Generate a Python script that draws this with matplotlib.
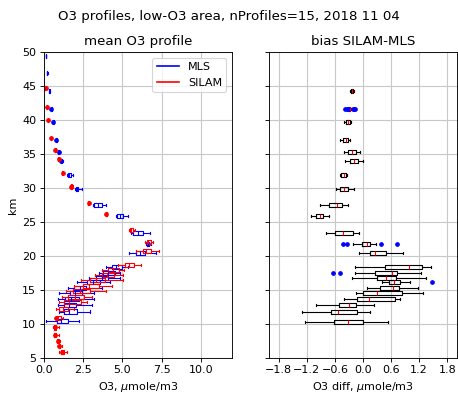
import numpy as np
import matplotlib
matplotlib.use("Agg")
import matplotlib.pyplot as plt
from matplotlib.lines import Line2D

# ---------------- data ----------------
# MLS mean-profile boxes (km, q1, median, q3, whisker low, whisker high)
mls_km = [49.4, 46.9, 44.3, 41.6, 39.7, 37.1, 35.3, 34.0, 31.9, 29.9, 27.5, 25.8,
          23.4, 21.7, 20.35, 18.3, 17.5, 16.8, 16.1, 15.25, 14.5, 13.6, 12.7, 11.8, 10.35]
mls_q1 = [0.12, 0.20, 0.32, 0.44, 0.57, 0.77, 0.92, 1.08, 1.50, 2.02, 3.19, 4.65,
          5.71, 6.58, 5.88, 4.31, 3.79, 3.33, 2.75, 1.92, 1.67, 1.33, 1.29, 1.29, 0.80]
mls_med = [0.13, 0.21, 0.34, 0.46, 0.59, 0.80, 0.95, 1.12, 1.60, 2.10, 3.45, 4.85,
           6.00, 6.65, 6.10, 4.62, 4.10, 3.70, 3.10, 2.30, 2.00, 1.75, 1.60, 1.60, 1.10]
mls_q3 = [0.14, 0.22, 0.36, 0.48, 0.62, 0.83, 0.98, 1.16, 1.72, 2.20, 3.70, 5.03,
          6.30, 6.72, 6.47, 5.00, 4.52, 4.10, 3.58, 2.65, 2.44, 2.23, 2.02, 2.13, 1.55]
mls_lo = [0.11, 0.19, 0.30, 0.42, 0.55, 0.75, 0.90, 1.05, 1.45, 1.98, 3.10, 4.60,
          5.56, 6.52, 5.45, 3.96, 3.48, 2.85, 2.13, 1.50, 0.98, 0.88, 0.88, 0.98, 0.15]
mls_hi = [0.15, 0.23, 0.38, 0.50, 0.64, 0.86, 1.01, 1.20, 1.88, 2.42, 3.93, 5.35,
          6.77, 6.80, 7.15, 5.35, 4.83, 4.83, 4.20, 3.69, 3.17, 3.17, 3.06, 2.96, 2.25]
mls_fl = [[], [], [], [0.45], [0.58], [0.79], [0.94], [1.11], [], [], [], [],
          [], [6.62], [], [], [], [], [], [], [], [], [], [], []]

# SILAM mean-profile boxes
sil_km = [44.65, 41.9, 40.0, 37.4, 35.6, 34.2, 32.2, 30.2, 27.8, 26.1, 23.8, 22.0,
          20.7, 18.65, 17.86, 17.18, 16.46, 15.58, 14.76, 13.93, 13.2, 12.23, 10.87,
          9.45, 8.4, 7.5, 6.7, 5.85]
sil_q1 = [0.09, 0.18, 0.26, 0.42, 0.70, 0.92, 1.15, 1.72, 2.82, 3.94, 5.50, 6.55,
          6.30, 5.15, 4.10, 3.69, 2.96, 2.50, 1.85, 1.50, 1.29, 0.98, 0.75,
          0.62, 0.66, 0.83, 0.93, 1.08]
sil_med = [0.10, 0.19, 0.27, 0.44, 0.72, 0.95, 1.18, 1.75, 2.85, 3.97, 5.58, 6.65,
           6.50, 5.42, 4.40, 4.00, 3.30, 2.90, 2.30, 2.00, 1.60, 1.20, 0.90,
           0.67, 0.71, 0.88, 0.98, 1.15]
sil_q3 = [0.11, 0.20, 0.28, 0.46, 0.74, 0.98, 1.21, 1.78, 2.88, 4.00, 5.70, 6.80,
          6.80, 5.73, 4.80, 4.46, 3.90, 3.48, 2.96, 2.54, 2.33, 1.50, 1.08,
          0.75, 0.78, 0.93, 1.04, 1.25]
sil_lo = [0.08, 0.17, 0.25, 0.40, 0.68, 0.90, 1.12, 1.68, 2.78, 3.90, 5.40, 6.45,
          5.88, 4.75, 3.73, 3.23, 2.33, 1.92, 1.40, 1.13, 0.98, 0.77, 0.68,
          0.58, 0.62, 0.80, 0.90, 0.95]
sil_hi = [0.12, 0.21, 0.30, 0.48, 0.76, 1.00, 1.24, 1.82, 2.92, 4.05, 5.80, 6.93,
          7.31, 6.19, 5.08, 5.04, 5.04, 4.31, 3.98, 3.06, 2.75, 1.92, 1.20,
          0.95, 0.95, 1.00, 1.15, 1.45]
sil_fl = [[0.10], [0.19], [0.27], [0.44], [0.72], [0.95], [1.18], [1.75], [2.85], [3.97],
          [], [], [], [], [], [], [], [], [], [], [], [], [0.78],
          [0.67], [0.71], [0.88], [0.98], [1.15]]

# Bias SILAM-MLS boxes
dif_km = [44.3, 41.6, 39.7, 37.1, 35.3, 34.0, 31.9, 29.9, 27.5, 25.8, 23.4, 21.8,
          20.4, 18.3, 17.5, 16.8, 16.1, 15.25, 14.5, 13.6, 12.7, 11.75, 10.3]
dif_q1 = [-0.25, -0.29, -0.37, -0.43, -0.31, -0.28, -0.46, -0.48, -0.73, -1.01, -0.60, -0.01,
          0.16, 0.48, 0.26, 0.30, 0.55, 0.36, 0.01, -0.13, -0.52, -0.69, -0.62]
dif_med = [-0.235, -0.28, -0.32, -0.36, -0.235, -0.19, -0.41, -0.41, -0.56, -0.91, -0.43, 0.08,
           0.26, 0.99, 0.61, 0.50, 0.66, 0.64, 0.31, 0.12, -0.29, -0.54, -0.33]
dif_q3 = [-0.22, -0.27, -0.27, -0.31, -0.14, -0.10, -0.37, -0.33, -0.44, -0.86, -0.21, 0.16,
          0.49, 1.25, 0.73, 0.71, 0.80, 0.76, 0.84, 0.69, -0.15, -0.13, 0.01]
dif_lo = [-0.27, -0.30, -0.40, -0.48, -0.41, -0.39, -0.50, -0.58, -0.91, -1.10, -0.78, -0.21,
          -0.09, -0.17, -0.17, -0.23, 0.41, 0.08, -0.15, -0.41, -1.00, -1.31, -1.23]
dif_hi = [-0.20, -0.26, -0.25, -0.28, -0.07, 0.00, -0.34, -0.19, -0.31, -0.73, -0.09, 0.27,
          0.86, 1.45, 1.24, 1.34, 1.00, 1.18, 1.28, 0.79, 0.23, 0.14, 0.53]
dif_fl = [[], [-0.38, -0.35, -0.33, -0.30, -0.22, -0.19, -0.17], [], [], [], [], [], [], [], [], [],
          [-0.43, -0.34, 0.39, 0.73], [], [], [-0.63, -0.48], [], [1.47], [], [], [], [], [], []]

suptitle = "O3 profiles, low-O3 area, nProfiles=15, 2018 11 04"
title_l = "mean O3 profile"
title_r = "bias SILAM-MLS"
xlabel_l = r"O3, $\mu$mole/m3"
xlabel_r = r"O3 diff, $\mu$mole/m3"
ylabel = "km"
yticks = [5, 10, 15, 20, 25, 30, 35, 40, 45, 50]
xticks_r = [-1.8, -1.2, -0.6, 0.0, 0.6, 1.2, 1.8]


def stats(q1, med, q3, lo, hi, fl):
    return [dict(q1=a, med=b, q3=c, whislo=d, whishi=e, fliers=f)
            for a, b, c, d, e, f in zip(q1, med, q3, lo, hi, fl)]


def draw(ax, st, pos, col, medcol, flcol, lw=1.0):
    ax.bxp(st, positions=pos, vert=False, widths=0.6, manage_ticks=False,
           boxprops=dict(color=col, lw=lw),
           whiskerprops=dict(color=col, lw=lw),
           capprops=dict(color=col, lw=lw),
           medianprops=dict(color=medcol, lw=lw),
           flierprops=dict(marker='o', markerfacecolor=flcol, markeredgecolor=flcol,
                           markersize=3.2, linestyle='none'))


DPI = 80
fig = plt.figure(figsize=(458 / DPI, 397 / DPI), dpi=DPI)
axl = fig.add_axes([0.0961, 0.099, 0.4105, 0.770])
axr = fig.add_axes([0.588, 0.099, 0.409, 0.770], sharey=axl)

for ax in (axl, axr):
    ax.grid(True, color='#c8c8c8', lw=1.0)
    ax.set_axisbelow(True)

draw(axl, stats(mls_q1, mls_med, mls_q3, mls_lo, mls_hi, mls_fl), mls_km, 'b', 'b', 'b')
draw(axl, stats(sil_q1, sil_med, sil_q3, sil_lo, sil_hi, sil_fl), sil_km, 'r', 'r', 'r')
draw(axr, stats(dif_q1, dif_med, dif_q3, dif_lo, dif_hi, dif_fl), dif_km, 'k', 'r', 'b')

axl.set_xlim(0, 12)
axl.set_ylim(5, 50)
axl.set_yticks(yticks)
axl.set_title(title_l, fontsize=12)
axl.set_xlabel(xlabel_l)
axl.set_ylabel(ylabel)
axl.legend(handles=[Line2D([], [], color='b', lw=1.5), Line2D([], [], color='r', lw=1.5)],
           labels=['MLS', 'SILAM'], loc='upper right')

axr.set_xlim(-2, 2)
axr.set_xticks(xticks_r)
axr.set_title(title_r, fontsize=12)
axr.set_xlabel(xlabel_r)
axr.tick_params(axis='y', labelleft=False)

fig.suptitle(suptitle, fontsize=12, y=0.975)
fig.savefig("out.png", dpi=DPI)
